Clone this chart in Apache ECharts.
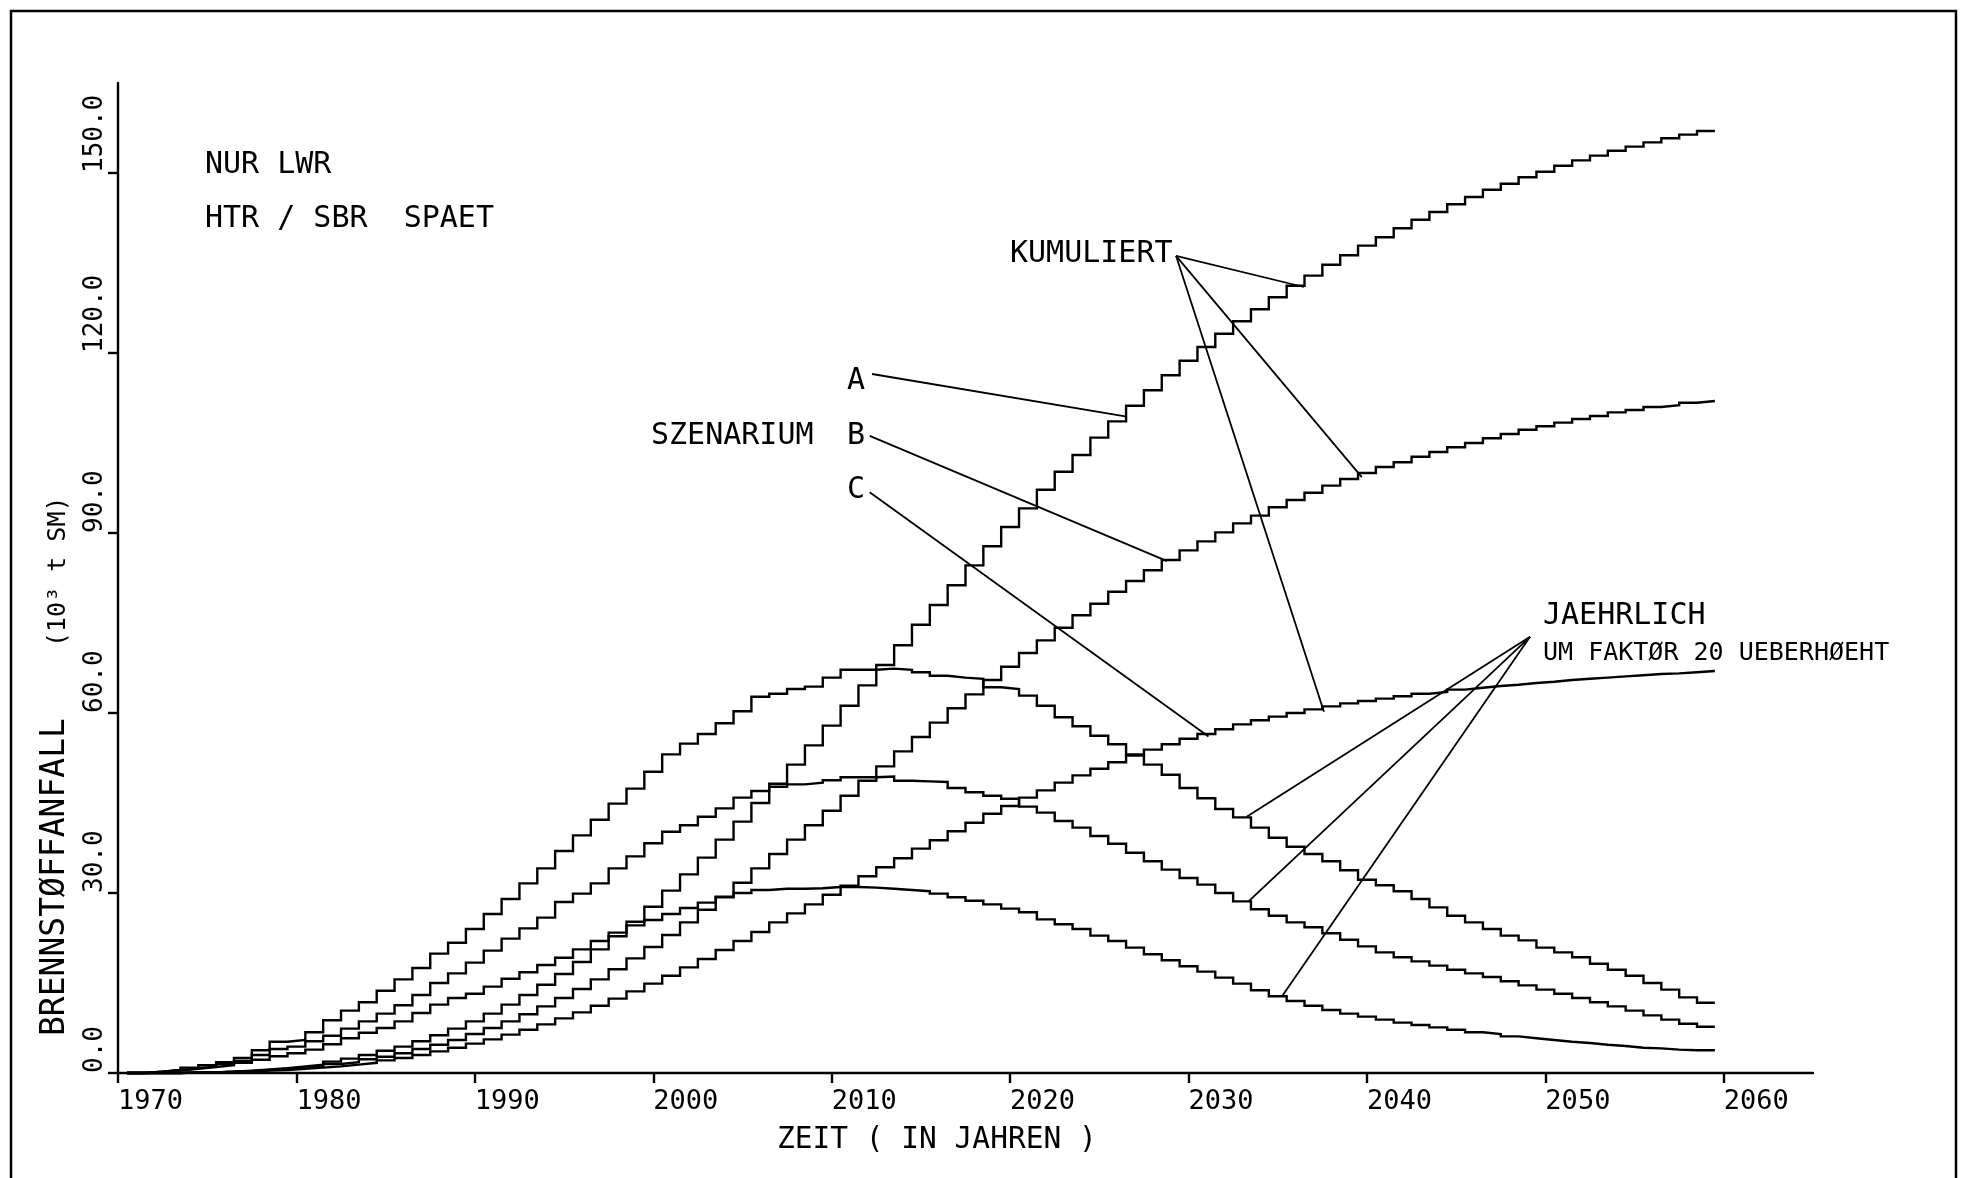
<!DOCTYPE html>
<html>
<head>
<meta charset="utf-8">
<title>Brennstoffanfall</title>
<script src="https://cdn.jsdelivr.net/npm/echarts@6.0.0/dist/echarts.min.js"></script>
<style>
  html, body { margin: 0; padding: 0; background: #fff; }
  #chart { width: 1968px; height: 1178px; }
</style>
</head>
<body>
<div id="chart"></div>
<script>
// Fuel discharge (10^3 t SM), scenarios A/B/C, LWR only, HTR/SBR late.
// Yearly values 1970..2059; the "annual" series are drawn 20x exaggerated.
const firstYear = 1970;

const xTicks = [1970, 1980, 1990, 2000, 2010, 2020, 2030, 2040, 2050, 2060];
const yTicks = [0, 30, 60, 90, 120, 150];

// annual discharge x 20
const annualA = [
  0, 0, 0.2, 0.5, 0.9, 1.3, 1.8, 2.5, 3.8, 5.2,
  5.5, 6.8, 8.8, 10.4, 11.8, 13.7, 15.6, 17.5, 19.9, 21.7,
  24.0, 26.5, 29.0, 31.6, 34.1, 37.0, 39.6, 42.2, 44.9, 47.4,
  50.2, 53.1, 54.9, 56.5, 58.3, 60.3, 62.7, 63.2, 64.0, 64.4,
  65.9, 67.2, 67.2, 67.4, 67.2, 66.8, 66.2, 65.9, 65.7, 64.3,
  64.0, 62.9, 61.2, 59.3, 57.8, 56.2, 54.8, 53.1, 51.4, 49.7,
  47.5, 45.8, 44.0, 42.6, 40.9, 39.2, 37.7, 36.5, 35.3, 33.8,
  32.2, 31.3, 30.3, 29.0, 27.6, 26.2, 25.1, 24.0, 22.9, 22.1,
  20.9, 20.1, 19.3, 18.2, 17.2, 16.2, 15.0, 13.9, 12.6, 11.7
];
const annualB = [
  0, 0, 0.2, 0.5, 0.8, 1.1, 1.5, 2.0, 3.0, 4.0,
  4.4, 5.3, 6.2, 7.4, 8.6, 9.9, 11.3, 13.0, 15.0, 16.6,
  18.4, 20.4, 22.4, 24.1, 25.9, 28.5, 29.9, 31.6, 34.1, 36.1,
  38.3, 40.2, 41.3, 42.7, 44.1, 45.9, 47.0, 47.7, 48.1, 48.4,
  48.8, 49.3, 49.3, 49.4, 48.7, 48.6, 48.5, 47.5, 46.8, 46.2,
  45.7, 44.4, 43.4, 42.0, 40.9, 39.5, 38.2, 36.7, 35.3, 33.9,
  32.5, 31.4, 30.0, 28.6, 27.3, 26.2, 25.1, 24.3, 23.3, 22.2,
  21.1, 20.1, 19.3, 18.6, 17.9, 17.2, 16.6, 16.0, 15.3, 14.6,
  13.9, 13.2, 12.5, 11.8, 11.1, 10.4, 9.6, 8.9, 8.2, 7.7
];
const annualC = [
  0, 0, 0.2, 0.4, 0.7, 1.0, 1.3, 1.7, 2.2, 2.8,
  3.3, 3.9, 4.8, 5.8, 6.7, 7.5, 8.6, 10.0, 11.4, 12.5,
  13.2, 14.4, 15.7, 16.8, 18.0, 19.2, 20.6, 22.0, 23.4, 24.6,
  25.5, 26.5, 27.5, 28.4, 29.3, 30.0, 30.5, 30.7, 30.7, 30.8,
  31.0, 31.0, 30.9, 30.7, 30.5, 30.3, 29.9, 29.3, 28.7, 28.1,
  27.4, 26.8, 25.6, 24.8, 24.0, 22.9, 22.0, 20.9, 19.8, 18.8,
  17.8, 16.9, 15.9, 14.9, 13.8, 12.8, 12.0, 11.2, 10.5, 9.9,
  9.4, 8.9, 8.4, 8.0, 7.6, 7.2, 6.8, 6.5, 6.1, 5.8,
  5.5, 5.2, 5.0, 4.7, 4.5, 4.2, 4.1, 3.9, 3.8, 3.8
];

// cumulative discharge
const cumA = [
  0, 0, 0.0, 0.0, 0.1, 0.1, 0.2, 0.4, 0.6, 0.8,
  1.1, 1.4, 1.9, 2.4, 3.0, 3.7, 4.4, 5.3, 6.3, 7.4,
  8.6, 9.9, 11.4, 13.0, 14.7, 16.5, 18.5, 20.6, 22.8, 25.2,
  27.7, 30.4, 33.1, 35.9, 38.9, 41.9, 45.0, 48.2, 51.4, 54.6,
  57.9, 61.2, 64.6, 68.0, 71.3, 74.7, 78.0, 81.3, 84.6, 87.8,
  91.0, 94.1, 97.2, 100.2, 103.0, 105.9, 108.6, 111.2, 113.8, 116.3,
  118.7, 121.0, 123.2, 125.3, 127.3, 129.3, 131.2, 132.9, 134.7, 136.3,
  137.9, 139.3, 140.8, 142.2, 143.5, 144.8, 146.0, 147.2, 148.2, 149.3,
  150.2, 151.2, 152.1, 152.9, 153.7, 154.4, 155.1, 155.8, 156.4, 157.0
];
const cumB = [
  0, 0, 0.0, 0.0, 0.1, 0.1, 0.2, 0.3, 0.5, 0.7,
  0.9, 1.1, 1.5, 1.8, 2.3, 2.7, 3.3, 4.0, 4.7, 5.5,
  6.5, 7.5, 8.6, 9.8, 11.1, 12.5, 14.0, 15.6, 17.3, 19.1,
  21.0, 23.0, 25.1, 27.2, 29.4, 31.7, 34.1, 36.5, 38.9, 41.3,
  43.7, 46.2, 48.7, 51.1, 53.6, 56.0, 58.4, 60.8, 63.1, 65.5,
  67.7, 70.0, 72.1, 74.2, 76.3, 78.2, 80.2, 82.0, 83.8, 85.5,
  87.1, 88.6, 90.1, 91.6, 92.9, 94.3, 95.5, 96.7, 97.9, 99.0,
  100.0, 101.0, 101.8, 102.7, 103.5, 104.3, 105.0, 105.8, 106.5, 107.2,
  107.8, 108.4, 109.0, 109.5, 110.1, 110.5, 111.0, 111.3, 111.7, 112.0
];
const cumC = [
  0, 0, 0.0, 0.0, 0.1, 0.1, 0.2, 0.3, 0.4, 0.5,
  0.7, 0.9, 1.1, 1.4, 1.7, 2.1, 2.5, 3.0, 3.6, 4.2,
  4.9, 5.6, 6.4, 7.2, 8.1, 9.1, 10.1, 11.2, 12.4, 13.6,
  14.9, 16.2, 17.6, 19.0, 20.5, 22.0, 23.5, 25.1, 26.6, 28.1,
  29.7, 31.2, 32.8, 34.3, 35.8, 37.4, 38.8, 40.3, 41.7, 43.2,
  44.5, 45.9, 47.1, 48.4, 49.6, 50.7, 51.8, 52.9, 53.9, 54.8,
  55.7, 56.5, 57.3, 58.1, 58.8, 59.4, 60.0, 60.6, 61.1, 61.6,
  62.0, 62.4, 62.8, 63.2, 63.5, 63.9, 64.2, 64.5, 64.7, 65.0,
  65.2, 65.5, 65.7, 65.9, 66.1, 66.3, 66.5, 66.6, 66.8, 67.0
];

// pointer lines from the annotations to the curves, in [year, value]
const pointerLines = [
  [[2012.26, 116.5], [2026.54, 109.4]],   // A
  [[2012.13, 106.2], [2028.80, 85.3]],    // B
  [[2012.13, 96.8],  [2031.12, 56.1]],    // C
  [[2029.30, 136.2], [2036.47, 131.0]],   // KUMULIERT -> A
  [[2029.30, 136.2], [2039.71, 99.3]],    // KUMULIERT -> B
  [[2029.30, 136.2], [2037.59, 60.2]],    // KUMULIERT -> C
  [[2049.14, 72.7],  [2033.26, 42.7]],    // JAEHRLICH -> A
  [[2049.14, 72.7],  [2033.35, 28.55]],   // JAEHRLICH -> B
  [[2049.14, 72.7],  [2035.28, 12.95]]    // JAEHRLICH -> C
];

const FONT = '"DejaVu Sans Mono", "Liberation Mono", monospace';
const INK = '#000';

// each yearly value holds from mid-year to mid-year
function yearSteps(values) {
  return values.map((v, i) => [firstYear + i + 0.5, v]);
}

function stepSeries(values) {
  return {
    type: 'line',
    data: yearSteps(values),
    step: 'start',
    symbol: 'none',
    silent: true,
    clip: false,
    lineStyle: { color: INK, width: 2.4, join: 'miter', cap: 'butt' },
    z: 3
  };
}

function pointerSeries(seg) {
  return {
    type: 'line',
    data: seg,
    symbol: 'none',
    silent: true,
    clip: false,
    lineStyle: { color: INK, width: 1.8 },
    z: 2
  };
}

function label(text, x, y, size) {
  return {
    type: 'text',
    x: x, y: y,
    silent: true,
    style: {
      text: text,
      fontFamily: FONT,
      fontSize: size,
      fill: INK,
      textAlign: 'left',
      textVerticalAlign: 'middle'
    }
  };
}

function uprightLabel(text, x, y, size) {
  const el = label(text, x, y, size);
  el.rotation = Math.PI / 2;
  return el;
}

const chart = echarts.init(document.getElementById('chart'), null, { renderer: 'canvas' });

chart.setOption({
  animation: false,
  backgroundColor: '#fff',
  grid: { left: 118, top: 83, right: 155, bottom: 105, outerBoundsMode: 'none' },
  xAxis: {
    type: 'value',
    min: 1970,
    max: 2065,
    axisLine: { show: true, onZero: false, lineStyle: { color: INK, width: 2.4 } },
    axisTick: { show: true, inside: false, length: 10, customValues: xTicks,
                lineStyle: { color: INK, width: 2.4 } },
    axisLabel: {
      customValues: xTicks,
      formatter: v => String(v),
      color: INK, fontFamily: FONT, fontSize: 27,
      align: 'left', verticalAlign: 'top', margin: 15
    },
    splitLine: { show: false }
  },
  yAxis: {
    type: 'value',
    min: 0,
    max: 165,
    axisLine: { show: true, onZero: false, lineStyle: { color: INK, width: 2.4 } },
    axisTick: { show: true, inside: false, length: 10, customValues: yTicks,
                lineStyle: { color: INK, width: 2.4 } },
    axisLabel: {
      customValues: yTicks,
      formatter: v => v.toFixed(1),
      rotate: 90,
      color: INK, fontFamily: FONT, fontSize: 26,
      align: 'left', verticalAlign: 'bottom', margin: 10
    },
    splitLine: { show: false }
  },
  series: [
    stepSeries(cumA), stepSeries(cumB), stepSeries(cumC),
    stepSeries(annualA), stepSeries(annualB), stepSeries(annualC)
  ].concat(pointerLines.map(pointerSeries)),
  graphic: [
    {
      type: 'rect',
      silent: true,
      shape: { x: 11, y: 11, width: 1945, height: 1220 },
      style: { fill: 'none', stroke: INK, lineWidth: 2.5 }
    },
    label('NUR LWR', 205, 165.5, 30),
    label('HTR / SBR  SPAET', 205, 219.5, 30),
    label('KUMULIERT', 1010, 254.5, 30),
    label('A', 847, 381, 30),
    label('SZENARIUM', 651, 436, 30),
    label('B', 847, 436, 30),
    label('C', 847, 490, 30),
    label('JAEHRLICH', 1543, 616.5, 30),
    label('UM FAKTØR 20 UEBERHØEHT', 1543, 653.5, 25),
    label('ZEIT ( IN JAHREN )', 777, 1140, 29.5),
    uprightLabel('BRENNSTØFFANFALL', 55, 1036, 33),
    uprightLabel('(10³ t SM)', 58, 647, 25)
  ]
});
</script>
</body>
</html>
